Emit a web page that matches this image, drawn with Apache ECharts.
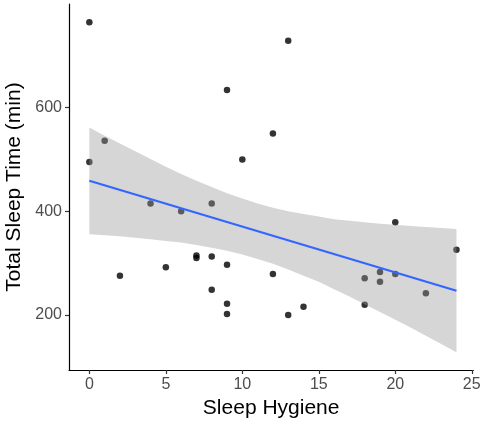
<!DOCTYPE html>
<html>
<head>
<meta charset="utf-8">
<script src="https://cdn.jsdelivr.net/npm/echarts@6/dist/echarts.min.js"></script>
<style>
html, body { margin: 0; padding: 0; background: #fff; }
#chart { width: 486px; height: 428px; }
</style>
</head>
<body>
<div id="chart"></div>
<script>
var hygiene   = [0, 0, 1, 2, 4, 5, 6, 7, 7, 8, 8, 8, 9, 9, 9, 9, 10, 12, 12, 13, 13, 14, 18, 18, 19, 19, 20, 20, 22, 24];
var sleepTime = [765, 495, 536, 276, 415, 292, 400, 315, 310, 415, 313, 249, 634, 297, 222, 202, 500, 550, 279, 729, 200, 216, 271, 220, 283, 264, 379, 279, 242, 326];

// fitted line and its confidence band
var fitX = [0, 24];
var fitY = [459, 247];
var bandX    = [0, 1, 2, 3, 4, 5, 6, 7, 8, 9, 10, 11, 12, 13, 14, 15, 16, 17, 18, 19, 20, 21, 22, 23, 24];
var bandLow  = [356, 354, 352, 349, 346, 343, 340, 335, 330, 324, 317, 308, 299, 288, 276, 264, 250, 236, 221, 206, 191, 176, 160, 144, 128];
var bandHigh = [562, 546, 531, 516, 501, 486, 472, 459, 447, 435, 425, 415, 407, 400, 395, 390, 385, 382, 379, 376, 374, 372, 370, 368, 366];

var xTicks = [0, 5, 10, 15, 20, 25];
var yTicks = [200, 400, 600];

var chart = echarts.init(document.getElementById('chart'), null, { renderer: 'canvas' });

var points = hygiene.map(function (x, i) { return [x, sleepTime[i]]; });
var fitData = fitX.map(function (x, i) { return [x, fitY[i]]; });

var font = 'Liberation Sans, Arial, sans-serif';

// band drawn as one polygon: along the top, then back along the bottom
function renderBand(params, api) {
	var pts = [], i;
	for (i = 0; i < bandX.length; i++) {
		pts.push(api.coord([bandX[i], bandHigh[i]]));
	}
	for (i = bandX.length - 1; i >= 0; i--) {
		pts.push(api.coord([bandX[i], bandLow[i]]));
	}
	return {
		type: 'polygon',
		shape: { points: pts },
		style: { fill: '#999999', opacity: 0.4 }
	};
}

var option = {
	animation: false,
	backgroundColor: '#fff',
	grid: { left: 69, right: 12.7, top: 4, bottom: 58, containLabel: false, outerBoundsMode: 'none' },
	xAxis: {
		type: 'value',
		min: -1.33,
		max: 25.1,
		name: 'Sleep Hygiene',
		nameLocation: 'middle',
		nameGap: 27,
		nameTextStyle: { color: '#000', fontSize: 21, fontFamily: font },
		axisLine: { show: true, onZero: false, lineStyle: { color: '#000', width: 1.2 } },
		axisTick: { show: true, length: 4, customValues: xTicks, lineStyle: { color: '#333', width: 1.2 } },
		axisLabel: { customValues: xTicks, color: '#4d4d4d', fontSize: 16, fontFamily: font, margin: 7 },
		splitLine: { show: false }
	},
	yAxis: {
		type: 'value',
		min: 94,
		max: 800,
		name: 'Total Sleep Time (min)',
		nameLocation: 'middle',
		nameGap: 41,
		nameTextStyle: { color: '#000', fontSize: 21, fontFamily: font },
		axisLine: { show: true, onZero: false, lineStyle: { color: '#000', width: 1.2 } },
		axisTick: { show: true, length: 4, customValues: yTicks, lineStyle: { color: '#333', width: 1.2 } },
		axisLabel: { customValues: yTicks, color: '#4d4d4d', fontSize: 16, fontFamily: font, margin: 7 },
		splitLine: { show: false }
	},
	series: [
		{
			type: 'scatter',
			data: points,
			symbolSize: 6.5,
			itemStyle: { color: '#000' },
			z: 1
		},
		{
			type: 'custom',
			coordinateSystem: 'cartesian2d',
			data: [[0, 400]],
			renderItem: renderBand,
			silent: true,
			z: 2
		},
		{
			type: 'line',
			data: fitData,
			showSymbol: false,
			lineStyle: { color: '#3366ff', width: 2.2 },
			z: 3
		}
	]
};

chart.setOption(option);
</script>
</body>
</html>
